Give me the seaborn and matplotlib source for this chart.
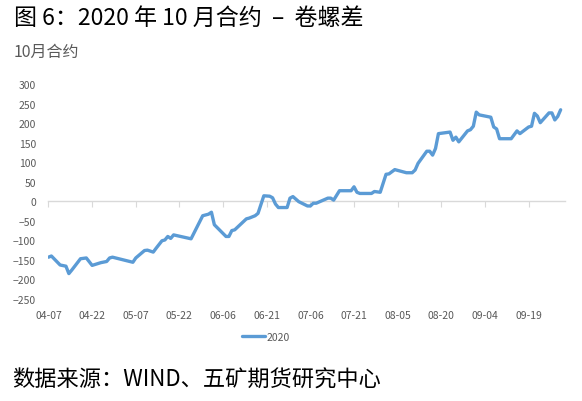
import pandas as pd
import matplotlib
matplotlib.use('Agg')
import matplotlib.pyplot as plt
import matplotlib.dates as mdates
import seaborn as sns

# Spread values (10-month contract, 2020)
DATES = [
    '04-07', '04-08', '04-11', '04-13', '04-14', '04-15', '04-18', '04-20',
    '04-22', '04-25', '04-27', '04-28', '04-29',
    '05-06', '05-07', '05-10', '05-11', '05-13', '05-14', '05-16', '05-17',
    '05-18', '05-19', '05-20', '05-23', '05-26', '05-30',
    '06-01', '06-02', '06-03', '06-07', '06-08', '06-09', '06-10', '06-14',
    '06-15', '06-17', '06-18', '06-20', '06-22', '06-23', '06-24', '06-25',
    '06-28', '06-29', '06-30',
    '07-02', '07-05', '07-06', '07-07', '07-08', '07-12', '07-13', '07-14',
    '07-16', '07-20', '07-21', '07-22', '07-23', '07-27', '07-28', '07-30',
    '08-01', '08-02', '08-04', '08-08', '08-10', '08-11', '08-12', '08-15',
    '08-16', '08-17', '08-18', '08-19', '08-23', '08-24', '08-25', '08-26',
    '08-29', '08-30', '08-31',
    '09-01', '09-02', '09-06', '09-07', '09-08', '09-09', '09-13', '09-15',
    '09-16', '09-19', '09-20', '09-21', '09-22', '09-23', '09-26', '09-27',
    '09-28', '09-29', '09-30',
]
SPREAD = [
    -143, -140, -163, -166, -185, -176, -147, -145,
    -164, -157, -154, -145, -143,
    -156, -145, -126, -125, -130, -120, -101, -99,
    -90, -95, -86, -91, -96, -37,
    -33, -28, -60, -90, -90, -75, -73, -45,
    -43, -37, -31, 14, 13, 9, -7, -16,
    -16, 8, 12,
    -1, -12, -12, -5, -5, 8, 8, 3,
    27, 27, 37, 23, 20, 20, 25, 23,
    69, 70, 81, 73, 73, 80, 97, 128,
    128, 118, 135, 173, 177, 156, 164, 152,
    180, 183, 192,
    228, 221, 215, 190, 185, 160, 160, 180,
    173, 190, 192, 225, 218, 201, 226, 226,
    208, 217, 234,
]
SERIES = '2020'
Y_TICKS = list(range(-250, 301, 50))
X_TICKS = ['04-07', '04-22', '05-07', '05-22', '06-06', '06-21',
           '07-06', '07-21', '08-05', '08-20', '09-04', '09-19']

LINE_COLOR = '#5b9bd5'
LABEL_COLOR = '#595959'
AXIS_COLOR = '#d9d9d9'

df = pd.DataFrame({'date': pd.to_datetime(['2020-' + d for d in DATES]),
                   'spread': SPREAD})

sns.set_theme(style='white')
plt.rcParams['font.family'] = ['Noto Sans CJK SC', 'DejaVu Sans']

fig = plt.figure(figsize=(5.82, 4.02), dpi=100)
ax = fig.add_axes([0.0833, 0.2537, 0.8875, 0.5349])

sns.lineplot(data=df, x='date', y='spread', ax=ax, color=LINE_COLOR,
             linewidth=2.4, label=SERIES, legend=False)

ax.set_ylim(-250, 300)
ax.set_xlim(pd.Timestamp('2020-04-07'), pd.Timestamp('2020-10-01 12:00'))
ax.set_yticks(Y_TICKS)
ax.set_xticks(pd.to_datetime(['2020-' + d for d in X_TICKS]))
ax.xaxis.set_major_formatter(mdates.DateFormatter('%m-%d'))
ax.tick_params(axis='both', length=0, labelsize=7.5, labelcolor=LABEL_COLOR)
ax.tick_params(axis='x', pad=8)
ax.tick_params(axis='y', pad=9)
ax.set_xlabel('')
ax.set_ylabel('')
for s in ax.spines.values():
    s.set_visible(False)

# horizontal axis line crossing at zero, with its tick marks
sec = ax.secondary_xaxis(250 / 550)
sec.set_xticks(pd.to_datetime(['2020-' + d for d in X_TICKS]))
sec.tick_params(axis='x', direction='out', length=4, width=0.8,
                color=AXIS_COLOR, labelbottom=False, labeltop=False)
sec.spines['bottom'].set_color(AXIS_COLOR)
sec.spines['bottom'].set_linewidth(1.0)
sec.spines['top'].set_visible(False)

handles, labels = ax.get_legend_handles_labels()
fig.legend(handles, labels, loc='center', bbox_to_anchor=(0.457, 0.159),
           frameon=False, fontsize=7.5, handlelength=2.2, handletextpad=0.1,
           labelcolor=LABEL_COLOR)

fig.text(0.024, 0.955, '图 6：2020 年 10 月合约  –  卷螺差', fontsize=16.6,
         va='center', ha='left', color='black')
fig.text(0.024, 0.87, '10月合约', fontsize=11.5, va='center', ha='left',
         color=LABEL_COLOR)
fig.text(0.02, 0.055, '数据来源：WIND、五矿期货研究中心', fontsize=16,
         va='center', ha='left', color='black')

fig.savefig('out.png', dpi=100)
plt.close(fig)
